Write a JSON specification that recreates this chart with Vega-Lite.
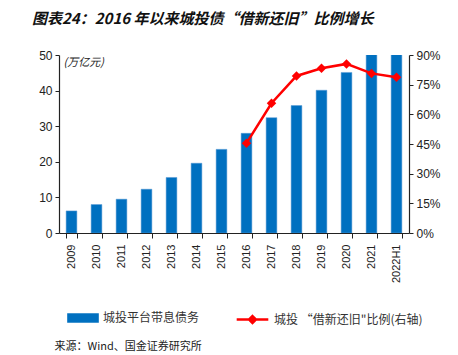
{
  "$schema": "https://vega.github.io/schema/vega-lite/v6.json",
  "width": 350,
  "height": 178,
  "autosize": {"type": "none"},
  "padding": {"left": 59, "top": 55, "right": 49, "bottom": 122},
  "background": "white",
  "title": {
    "text": "图表24：2016 年以来城投债“借新还旧”比例增长",
    "font": "Noto Sans CJK SC",
    "fontSize": 15,
    "fontStyle": "italic",
    "fontWeight": "bold",
    "color": "#111111",
    "anchor": "start",
    "frame": "group",
    "dx": -27,
    "offset": 22
  },
  "datasets": {
    "debt": [
      {"year": "2009", "debt": 6.2},
      {"year": "2010", "debt": 8.0},
      {"year": "2011", "debt": 9.5},
      {"year": "2012", "debt": 12.3},
      {"year": "2013", "debt": 15.6},
      {"year": "2014", "debt": 19.6},
      {"year": "2015", "debt": 23.5},
      {"year": "2016", "debt": 28.0},
      {"year": "2017", "debt": 32.4},
      {"year": "2018", "debt": 35.8},
      {"year": "2019", "debt": 40.1},
      {"year": "2020", "debt": 45.1},
      {"year": "2021", "debt": 53},
      {"year": "2022H1", "debt": 55}
    ],
    "ratio": [
      {"year": "2016", "ratio": 0.454},
      {"year": "2017", "ratio": 0.656},
      {"year": "2018", "ratio": 0.794},
      {"year": "2019", "ratio": 0.833},
      {"year": "2020", "ratio": 0.855},
      {"year": "2021", "ratio": 0.807},
      {"year": "2022H1", "ratio": 0.787}
    ]
  },
  "encoding": {
    "x": {
      "field": "year",
      "type": "nominal",
      "sort": null,
      "scale": {"domain": ["2009","2010","2011","2012","2013","2014","2015","2016","2017","2018","2019","2020","2021","2022H1"], "paddingInner": 0.57, "paddingOuter": 0.285},
      "axis": {
        "title": "来源：Wind、国金证券研究所",
        "titleFont": "Noto Sans CJK SC",
        "titleFontSize": 11,
        "titleFontWeight": "normal",
        "titleColor": "#222222",
        "titleAnchor": "start",
        "titleAlign": "left",
        "titleBaseline": "middle",
        "titleX": -5,
        "titleY": 113,
        "labelAngle": -90,
        "labelAlign": "right",
        "labelBaseline": "middle",
        "labelFont": "Liberation Sans",
        "labelFontSize": 11,
        "labelColor": "#222222",
        "labelPadding": 6,
        "tickBand": "extent",
        "tickSize": 5,
        "tickColor": "#222222",
        "domainColor": "#222222",
        "domainWidth": 1.2
      }
    }
  },
  "layer": [
    {
      "data": {"name": "debt"},
      "mark": {"type": "bar", "clip": true, "color": "#0070C0", "stroke": "#5B9BD5", "strokeWidth": 0.5},
      "encoding": {
        "y": {
          "field": "debt",
          "type": "quantitative",
          "scale": {"domain": [0, 50], "nice": false},
          "axis": {
            "title": "(万亿元)",
            "titleFont": "Noto Sans CJK SC",
            "titleFontSize": 11,
            "titleFontWeight": "normal",
            "titleFontStyle": "italic",
            "titleColor": "#222222",
            "titleAngle": 0,
            "titleAlign": "left",
            "titleBaseline": "middle",
            "titleX": 4,
            "titleY": 7,
            "values": [0, 10, 20, 30, 40, 50],
            "grid": false,
            "labelFont": "Liberation Sans",
            "labelFontSize": 12,
            "labelColor": "#222222",
            "tickSize": 4,
            "tickColor": "#222222",
            "domainColor": "#222222",
            "domainWidth": 1.2,
            "labelPadding": 3
          }
        },
        "fill": {
          "datum": "城投平台带息债务",
          "scale": {"range": ["#0070C0"]},
          "legend": {
            "orient": "none",
            "legendX": 8,
            "legendY": 247,
            "title": null,
            "symbolType": "M-1,-0.3H1V0.3H-1Z",
            "symbolSize": 1000,
            "symbolStrokeWidth": 0,
            "labelFont": "Noto Sans CJK SC",
            "labelFontSize": 12,
            "labelColor": "#333333",
            "labelOffset": 4
          }
        }
      }
    },
    {
      "data": {"name": "ratio"},
      "mark": {"type": "line", "color": "#FF0000", "strokeWidth": 2.5},
      "encoding": {
        "y": {
          "field": "ratio",
          "type": "quantitative",
          "scale": {"domain": [0, 0.9], "nice": false},
          "axis": {
            "orient": "right",
            "title": null,
            "format": ".0%",
            "values": [0, 0.15, 0.3, 0.45, 0.6, 0.75, 0.9],
            "grid": false,
            "labelFont": "Liberation Sans",
            "labelFontSize": 12,
            "labelColor": "#222222",
            "tickSize": 4,
            "tickColor": "#222222",
            "domainColor": "#222222",
            "domainWidth": 1.2,
            "labelPadding": 3
          }
        },
        "stroke": {
          "datum": "城投 “借新还旧\"比例(右轴)",
          "scale": {"range": ["#FF0000"]},
          "legend": {
            "orient": "none",
            "legendX": 176,
            "legendY": 247,
            "title": null,
            "symbolType": "M-1,0H1M0,-0.22L0.22,0L0,0.22L-0.22,0Z",
            "symbolSize": 1000,
            "symbolStrokeWidth": 2.5,
            "symbolFillColor": "#FF0000",
            "labelFont": "Noto Sans CJK SC",
            "labelFontSize": 12,
            "labelColor": "#333333",
            "labelOffset": 4
          }
        }
      }
    },
    {
      "data": {"name": "ratio"},
      "mark": {"type": "point", "shape": "diamond", "filled": true, "color": "#FF0000", "size": 90, "opacity": 1},
      "encoding": {
        "y": {"field": "ratio", "type": "quantitative", "scale": {"domain": [0, 0.9], "nice": false}, "axis": null}
      }
    }
  ],
  "resolve": {"scale": {"y": "independent"}},
  "config": {
    "view": {"stroke": null},
    "axis": {"labelFlush": false, "labelOverlap": false}
  }
}
